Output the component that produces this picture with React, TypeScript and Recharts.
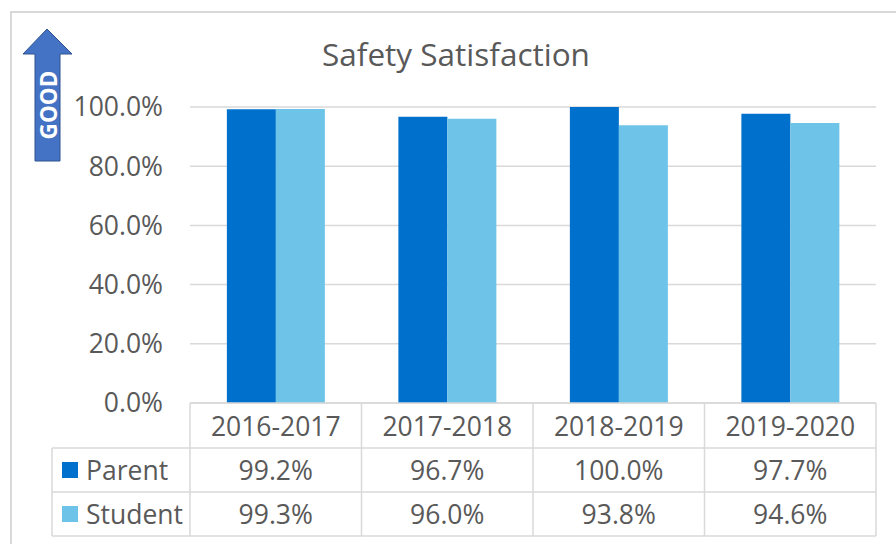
import React from 'react';
import { BarChart, Bar, XAxis, YAxis, CartesianGrid } from 'recharts';

const categories = ['2016-2017', '2017-2018', '2018-2019', '2019-2020'];
const parentValues = [99.2, 96.7, 100.0, 97.7];
const studentValues = [99.3, 96.0, 93.8, 94.6];
const seriesNames = ['Parent', 'Student'];
const yTicks = [0, 20, 40, 60, 80, 100];
const titleText = 'Safety Satisfaction';
const arrowLabel = 'GOOD';

const PARENT_COLOR = '#0070CD';
const STUDENT_COLOR = '#6EC4E8';
const TEXT_COLOR = '#595959';
const LINE_COLOR = '#d9d9d9';
const FONT = '"Open Sans", "Noto Sans", sans-serif';

const W = 896;
const H = 544;
const MARGIN = { top: 107, right: 20, bottom: 8, left: 110 };
const Y_AXIS_W = 80;
const X_AXIS_H = 133;
const PLOT_W = W - MARGIN.left - Y_AXIS_W - MARGIN.right;
const ROW_H = [45, 44, 44];
const LEGEND_LEFT = 52;
const FS = 26.5;

const data = categories.map((c, i) => ({
  category: c,
  Parent: parentValues[i],
  Student: studentValues[i],
}));

const fmt = (v: number) => `${v.toFixed(1)}%`;

const TableTick = (props: any) => {
  const { x, y, payload, index } = props;
  const bw = PLOT_W / categories.length;
  const left = x - bw / 2;
  const right = x + bw / 2;
  const top = y;
  const r1 = top + ROW_H[0];
  const r2 = r1 + ROW_H[1];
  const bottom = r2 + ROW_H[2];
  const rowVals = [parentValues[index], studentValues[index]];
  const line = { stroke: LINE_COLOR, strokeWidth: 1.5 };
  return (
    <g>
      <line x1={left} x2={right} y1={top} y2={top} {...line} />
      <line x1={left} x2={right} y1={r1} y2={r1} {...line} />
      <line x1={left} x2={right} y1={r2} y2={r2} {...line} />
      <line x1={left} x2={right} y1={bottom} y2={bottom} {...line} />
      <line x1={right} x2={right} y1={top} y2={bottom} {...line} />
      {index === 0 && <line x1={left} x2={left} y1={top} y2={bottom} {...line} />}
      <text x={x} y={top + ROW_H[0] / 2} textAnchor="middle" dominantBaseline="central" fill={TEXT_COLOR} fontSize={FS} fontFamily={FONT}>
        {payload.value}
      </text>
      {rowVals.map((v, i) => (
        <text key={i} x={x} y={(i === 0 ? r1 : r2) + ROW_H[i + 1] / 2} textAnchor="middle" dominantBaseline="central" fill={TEXT_COLOR} fontSize={FS} fontFamily={FONT}>
          {fmt(v)}
        </text>
      ))}
      {index === 0 && (
        <g>
          <line x1={LEGEND_LEFT} x2={left} y1={r1} y2={r1} {...line} />
          <line x1={LEGEND_LEFT} x2={left} y1={r2} y2={r2} {...line} />
          <line x1={LEGEND_LEFT} x2={left} y1={bottom} y2={bottom} {...line} />
          <line x1={LEGEND_LEFT} x2={LEGEND_LEFT} y1={r1} y2={bottom} {...line} />
          {seriesNames.map((n, i) => {
            const cy = (i === 0 ? r1 : r2) + ROW_H[i + 1] / 2;
            return (
              <g key={n}>
                <rect x={62} y={cy - 8} width={16} height={16} fill={i === 0 ? PARENT_COLOR : STUDENT_COLOR} />
                <text x={86} y={cy} dominantBaseline="central" fill={TEXT_COLOR} fontSize={FS} fontFamily={FONT}>
                  {n}
                </text>
              </g>
            );
          })}
        </g>
      )}
    </g>
  );
};

export default function App() {
  return (
    <div style={{ position: 'absolute', left: 0, top: 0, width: W, height: H, background: '#fff', overflow: 'hidden' }}>
      <svg width={W} height={H} style={{ position: 'absolute', left: 0, top: 0 }}>
        <rect x={11} y={12} width={W} height={H} fill="none" stroke={LINE_COLOR} strokeWidth={2} />
      </svg>
      <div
        style={{
          position: 'absolute',
          left: 0,
          width: 912,
          top: 34,
          textAlign: 'center',
          fontFamily: FONT,
          fontSize: 31.5,
          color: TEXT_COLOR,
          lineHeight: '40px',
        }}
      >
        {titleText}
      </div>
      <div style={{ position: 'absolute', left: 0, top: 0 }}>
        <BarChart width={W} height={H} data={data} margin={MARGIN} barCategoryGap="21.5%" barGap={0}>
          <CartesianGrid vertical={false} stroke={LINE_COLOR} strokeWidth={1.5} />
          <XAxis
            dataKey="category"
            height={X_AXIS_H}
            axisLine={false}
            tickLine={false}
            tickSize={0}
            tickMargin={0}
            interval={0}
            tick={<TableTick />}
          />
          <YAxis
            width={Y_AXIS_W}
            domain={[0, 100]}
            ticks={yTicks}
            tickFormatter={fmt}
            axisLine={false}
            tickLine={false}
            tickSize={0}
            tickMargin={27}
            tick={{ fill: TEXT_COLOR, fontSize: FS, fontFamily: FONT }}
          />
          <Bar dataKey="Parent" fill={PARENT_COLOR} isAnimationActive={false} />
          <Bar dataKey="Student" fill={STUDENT_COLOR} isAnimationActive={false} />
        </BarChart>
      </div>
      <svg width={W} height={H} style={{ position: 'absolute', left: 0, top: 0, pointerEvents: 'none' }}>
        <path d="M47,29 L72,54 L60,54 L60,161 L35,161 L35,54 L23,54 Z" fill="#4472C4" stroke="#2F528F" strokeWidth={1} />
        <text
          x={0}
          y={0}
          transform="translate(48,105) rotate(-90)"
          textAnchor="middle"
          dominantBaseline="central"
          fill="#fff"
          fontWeight="bold"
          fontSize={22.5}
          fontFamily={FONT}
        >
          {arrowLabel}
        </text>
      </svg>
    </div>
  );
}
